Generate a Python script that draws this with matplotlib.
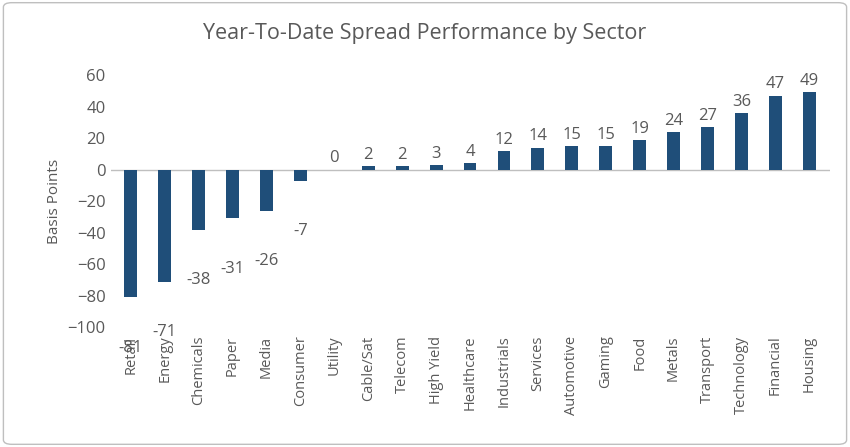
import matplotlib
matplotlib.use("Agg")
import matplotlib.pyplot as plt
from matplotlib.patches import FancyBboxPatch

sectors = ["Retail","Energy","Chemicals","Paper","Media","Consumer","Utility","Cable/Sat","Telecom","High Yield","Healthcare","Industrials","Services","Automotive","Gaming","Food","Metals","Transport","Technology","Financial","Housing"]
values = [-81,-71,-38,-31,-26,-7,0,2,2,3,4,12,14,15,15,19,24,27,36,47,49]

plt.rcParams['font.family'] = ['Open Sans', 'DejaVu Sans']
txt = '#595959'
fig = plt.figure(figsize=(8.5,4.47), dpi=100)
fig.patches.append(FancyBboxPatch((0.004,0.006),0.992,0.988, boxstyle="round,pad=0,rounding_size=0.01",
                                  transform=fig.transFigure, fill=False, edgecolor='#bfbfbf', lw=1))
ax = fig.add_axes([0.13,0.268,0.846,0.564])
x = range(len(sectors))
ax.bar(x, values, width=0.38, color='#1f4e79', zorder=3)
ax.axhline(0, color='#bfbfbf', lw=1, zorder=2)
ax.set_ylim(-100,60)
ax.set_xlim(-0.6, len(sectors)-0.4)
ax.set_yticks(range(-100,61,20))
ax.tick_params(axis='y', length=0, labelsize=12, colors=txt)
ax.set_xticks(list(x))
ax.set_xticklabels(sectors, rotation=90, fontsize=10.5, color=txt)
ax.tick_params(axis='x', length=0, pad=6)
for s in ax.spines.values(): s.set_visible(False)
ax.set_ylabel('Basis Points', fontsize=11, color=txt)
for i, v in zip(x, values):
    if v >= 0:
        ax.text(i, v+2, str(v), ha='center', va='bottom', fontsize=12, color=txt)
    else:
        ax.text(i, v-32, str(v), ha='center', va='center', fontsize=12, color=txt, clip_on=False)
fig.text(0.5, 0.925, 'Year-To-Date Spread Performance by Sector', ha='center', va='center', fontsize=15.5, color=txt)
fig.savefig('out.png', dpi=100)
